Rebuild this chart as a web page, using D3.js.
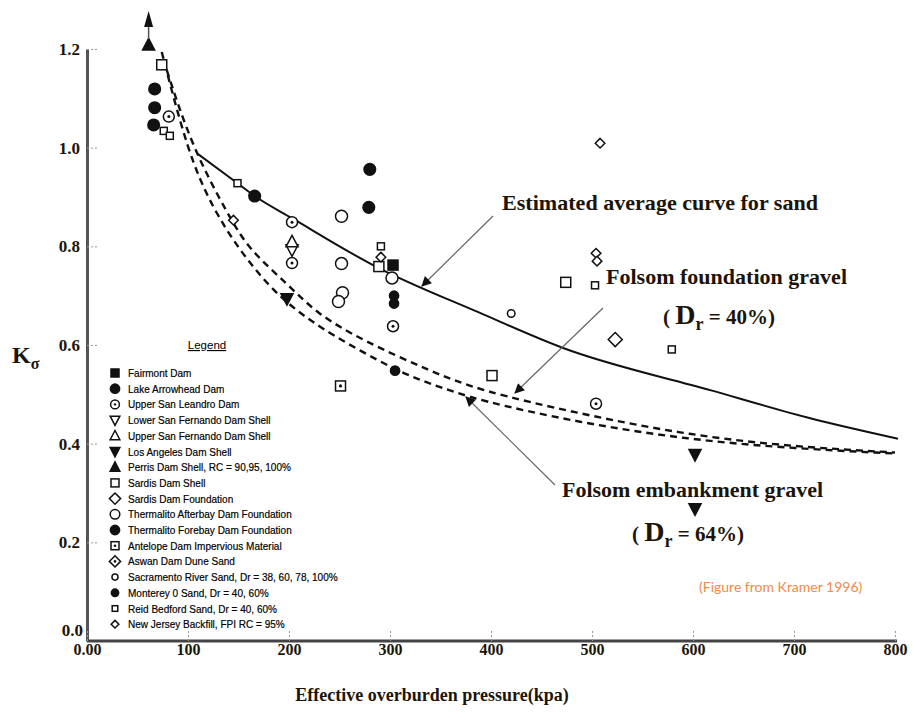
<!DOCTYPE html>
<html>
<head>
<meta charset="utf-8">
<script src="https://cdn.jsdelivr.net/npm/d3@7"></script>
<style>
  body { margin: 0; background: #fff; }
  svg { display: block; }
</style>
</head>
<body>
<script>
// ---------------- DATA ----------------
const xTicks = [0, 100, 200, 300, 400, 500, 600, 700, 800];
const xTickLabels = ["0.00", "100", "200", "300", "400", "500", "600", "700", "800"];
const yTicks = [0, 0.2, 0.4, 0.6, 0.8, 1.0, 1.2];
const yTickLabels = ["0.0", "0.2", "0.4", "0.6", "0.8", "1.0", "1.2"];

// [effective overburden pressure (kPa), K_sigma]
const fairmont = [[303, 0.762]];
const lakeArrowhead = [[67, 1.119], [67, 1.081], [66, 1.046]];
const upperSanLeandro = [[81, 1.063], [203, 0.849], [203, 0.766], [303, 0.638], [504, 0.481]];
const lowerSanFernando = [[203, 0.793]];
const upperSanFernando = [[203, 0.809]];
const losAngeles = [[198, 0.694], [602, 0.378], [602, 0.268]];
const perris = [[61, 1.208]];
const sardisShell = [[74, 1.168], [289, 0.759], [474, 0.727], [401, 0.538]];
const sardisFoundation = [[523, 0.611]];
const thermalitoAfterbay = [[252, 0.861], [252, 0.765], [253, 0.706], [249, 0.688], [302, 0.736]];
const thermalitoForebay = [[166, 0.902], [280, 0.956], [279, 0.879]];
const antelope = [[251, 0.517]];
const aswan = [];
const sacramento = [[420, 0.664]];
const monterey = [[304, 0.700], [304, 0.684], [305, 0.548]];
const reidBedford = [[149, 0.928], [76, 1.034], [82, 1.024], [291, 0.800], [503, 0.721], [579, 0.591]];
const newJersey = [[145, 0.853], [291, 0.778], [508, 1.009], [504, 0.786], [505, 0.770]];

// curves
const avgSandCurve = [[110, 0.987], [149, 0.928], [166, 0.902], [203, 0.857], [286, 0.759], [388, 0.666],
  [470, 0.595], [618, 0.508], [717, 0.451], [803, 0.410]];
const folsomFoundation = [[79, 1.157], [104, 1.001], [141, 0.859], [161, 0.792], [198, 0.725], [227, 0.664],
  [273, 0.609], [339, 0.548], [388, 0.508], [487, 0.461], [586, 0.421], [684, 0.396], [800, 0.382]];
const folsomEmbankment = [[74, 1.194], [100, 0.989], [124, 0.879], [151, 0.792], [181, 0.717], [207, 0.670],
  [240, 0.623], [306, 0.548], [339, 0.522], [388, 0.487], [487, 0.443], [586, 0.411], [684, 0.392], [800, 0.380]];

const legendNames = [
  "Fairmont Dam", "Lake Arrowhead Dam", "Upper San Leandro Dam", "Lower San Fernando Dam Shell",
  "Upper San Fernando Dam Shell", "Los Angeles Dam Shell", "Perris Dam Shell, RC = 90,95, 100%",
  "Sardis Dam Shell", "Sardis Dam Foundation", "Thermalito Afterbay Dam Foundation",
  "Thermalito Forebay Dam Foundation", "Antelope Dam Impervious Material", "Aswan Dam Dune Sand",
  "Sacramento River Sand, Dr = 38, 60, 78, 100%", "Monterey 0 Sand, Dr = 40, 60%",
  "Reid Bedford Sand, Dr = 40, 60%", "New Jersey Backfill, FPI RC = 95%"
];
const seriesData = [fairmont, lakeArrowhead, upperSanLeandro, lowerSanFernando, upperSanFernando, losAngeles,
  perris, sardisShell, sardisFoundation, thermalitoAfterbay, thermalitoForebay, antelope, aswan,
  sacramento, monterey, reidBedford, newJersey];
const seriesSymbols = ["sqF", "cirF", "cirDot", "triDown", "triUp", "triDownF", "triUpF", "sq", "dia", "cir",
  "cirF", "sqDot", "diaDot", "cirS", "cirFS", "sqS", "diaS"];

// ---------------- CHART ----------------
const W = 916, H = 713;
const x = d3.scaleLinear().domain([0, 800]).range([87, 895]);
const y = d3.scaleLinear().domain([0, 1.2]).range([641, 49]);

const svg = d3.select("body").append("svg").attr("width", W).attr("height", H);
const serif = "'Liberation Serif', 'Times New Roman', serif";
const sans = "'Liberation Sans', Arial, sans-serif";
const ink = "#1c1408";

function drawSymbol(g, type, s) {
  s = s || 1;
  const k = "#111";
  const sw = 1.5;
  function tri(up, fill, size) {
    const h = size * s, w = size * 1.1 * s;
    const pts = up ? [[0, -h * 0.6], [w / 2, h * 0.45], [-w / 2, h * 0.45]]
                   : [[0, h * 0.6], [w / 2, -h * 0.45], [-w / 2, -h * 0.45]];
    g.append("path").attr("d", "M" + pts.join("L") + "Z")
      .attr("fill", fill ? k : "#fff").attr("stroke", k).attr("stroke-width", sw);
  }
  function dia(r, fill) {
    r = r * s;
    g.append("path").attr("d", `M0,${-r}L${r},0L0,${r}L${-r},0Z`)
      .attr("fill", fill ? k : "#fff").attr("stroke", k).attr("stroke-width", sw);
  }
  function sq(a, fill) {
    a = a * s;
    g.append("rect").attr("x", -a / 2).attr("y", -a / 2).attr("width", a).attr("height", a)
      .attr("fill", fill ? k : "#fff").attr("stroke", k).attr("stroke-width", sw);
  }
  function cir(r, fill) {
    g.append("circle").attr("r", r * s).attr("fill", fill ? k : "#fff").attr("stroke", k).attr("stroke-width", sw);
  }
  function dot(r) { g.append("circle").attr("r", r * s).attr("fill", k); }
  switch (type) {
    case "sqF": sq(10, true); break;
    case "cirF": cir(5.8, true); break;
    case "cirDot": cir(5.5, false); dot(1.5); break;
    case "triDown": tri(false, false, 11); break;
    case "triUp": tri(true, false, 11); break;
    case "triDownF": tri(false, true, 11); break;
    case "triUpF": tri(true, true, 11); break;
    case "sq": sq(10, false); break;
    case "dia": dia(7, false); break;
    case "cir": cir(6, false); break;
    case "sqDot": sq(10, false); dot(1.6); break;
    case "diaDot": dia(7, false); dot(1.6); break;
    case "cirS": cir(3.8, false); break;
    case "cirFS": cir(4.6, true); break;
    case "sqS": sq(7, false); break;
    case "diaS": dia(4.8, false); break;
  }
}

// axes
const yAxis = d3.axisLeft(y).tickValues(yTicks).tickFormat((d, i) => yTickLabels[i])
  .tickSize(-12).tickSizeOuter(0).tickPadding(7);
const gy = svg.append("g").attr("transform", "translate(87,0)").call(yAxis);
gy.select(".domain").attr("stroke", "#555").attr("stroke-width", 3);
gy.selectAll(".tick line").attr("stroke", "#999").attr("stroke-dasharray", "2,2").attr("stroke-width", 1);
gy.selectAll(".tick text").attr("font-family", serif).attr("font-weight", "bold").attr("font-size", 17)
  .attr("fill", ink);
gy.selectAll(".tick").filter(d => d === 0).select("text").attr("dy", "-0.3em").attr("x", -4);

const xAxis = d3.axisBottom(x).tickValues(xTicks).tickFormat((d, i) => xTickLabels[i])
  .tickSize(-12).tickSizeOuter(0).tickPadding(3);
const gx = svg.append("g").attr("transform", "translate(0,641)").call(xAxis);
gx.select(".domain").attr("stroke", "#444").attr("stroke-width", 3).attr("d", "M87,0H897");
gx.selectAll(".tick line").attr("stroke", "#999").attr("stroke-dasharray", "2,2").attr("stroke-width", 1);
gx.selectAll(".tick text").attr("font-family", serif).attr("font-weight", "bold").attr("font-size", 16)
  .attr("fill", ink);

// axis titles
svg.append("text").attr("x", 432).attr("y", 701).attr("text-anchor", "middle")
  .attr("font-family", serif).attr("font-weight", "bold").attr("font-size", 18).attr("fill", ink)
  .text("Effective overburden pressure(kpa)");
const yt = svg.append("text").attr("x", 12).attr("y", 363)
  .attr("font-family", serif).attr("font-weight", "bold").attr("font-size", 24).attr("fill", ink);
yt.append("tspan").text("K");
yt.append("tspan").attr("font-size", 16).attr("dy", 6).text("σ");

// curves
const line = d3.line().x(d => x(d[0])).y(d => y(d[1])).curve(d3.curveMonotoneX);
const lineB = d3.line().x(d => x(d[0])).y(d => y(d[1])).curve(d3.curveBasis);
svg.append("path").datum(avgSandCurve).attr("d", line).attr("fill", "none")
  .attr("stroke", "#111").attr("stroke-width", 2);
svg.append("path").datum(folsomFoundation).attr("d", lineB).attr("fill", "none")
  .attr("stroke", "#111").attr("stroke-width", 2.4).attr("stroke-dasharray", "7,5");
svg.append("path").datum(folsomEmbankment).attr("d", lineB).attr("fill", "none")
  .attr("stroke", "#111").attr("stroke-width", 2.4).attr("stroke-dasharray", "7,5");

// data points
seriesData.forEach((arr, i) => {
  arr.forEach(p => {
    const g = svg.append("g").attr("transform", `translate(${x(p[0])},${y(p[1])})`);
    drawSymbol(g, seriesSymbols[i], 1);
  });
});

// arrow above Perris point (value off the chart)
const px = x(perris[0][0]);
svg.append("line").attr("x1", px).attr("x2", px).attr("y1", y(perris[0][1]) - 6).attr("y2", 24)
  .attr("stroke", "#555").attr("stroke-width", 1.5);
svg.append("path").attr("d", `M${px},11L${px + 4.5},27L${px - 4.5},27Z`).attr("fill", "#111");

// annotation arrows
svg.append("defs").append("marker").attr("id", "ah").attr("viewBox", "0 0 10 10")
  .attr("refX", 9).attr("refY", 5).attr("markerWidth", 14).attr("markerHeight", 10)
  .attr("markerUnits", "userSpaceOnUse").attr("orient", "auto")
  .append("path").attr("d", "M0,0L10,5L0,10Z").attr("fill", "#111");
function arrow(x1, y1, x2, y2) {
  svg.append("line").attr("x1", x1).attr("y1", y1).attr("x2", x2).attr("y2", y2)
    .attr("stroke", "#666").attr("stroke-width", 1.2).attr("marker-end", "url(#ah)");
}
arrow(493, 216, 422, 286);
arrow(603, 308, 515, 393);
arrow(555, 485, 466, 397);

// annotation texts
function label(tx, ty, txt, fs, len) {
  svg.append("text").attr("x", tx).attr("y", ty).attr("font-family", serif).attr("font-weight", "bold")
    .attr("font-size", fs).attr("fill", ink).attr("textLength", len).attr("lengthAdjust", "spacingAndGlyphs")
    .text(txt);
}
label(502, 210, "Estimated average curve for sand", 21, 316);
label(606, 284, "Folsom foundation gravel", 21, 241);
label(562, 497, "Folsom embankment gravel", 21, 261);
function drLabel(tx, ty, val, big) {
  const t = svg.append("text").attr("x", tx).attr("y", ty).attr("font-family", serif).attr("font-weight", "bold")
    .attr("font-size", 21).attr("fill", ink);
  t.append("tspan").text("( ");
  t.append("tspan").attr("font-size", big).text("D");
  t.append("tspan").attr("font-size", 18).attr("dy", 6).text("r");
  t.append("tspan").attr("dy", -6).text("  = " + val + ")");
}
drLabel(663, 324, "40%", 28);
drLabel(632, 541, "64%", 28);

svg.append("text").attr("x", 699).attr("y", 592).attr("font-family", "Lato, 'Open Sans', sans-serif")
  .attr("font-size", 14).attr("fill", "#f08a48").text("(Figure from Kramer 1996)");

// legend
const lg = svg.append("g");
lg.append("text").attr("x", 207).attr("y", 349).attr("text-anchor", "middle").attr("font-family", sans)
  .attr("font-size", 11.5).attr("text-decoration", "underline").attr("fill", "#000").text("Legend");
legendNames.forEach((name, i) => {
  const yy = 373 + i * 15.7;
  const g = lg.append("g").attr("transform", `translate(115,${yy})`);
  drawSymbol(g, seriesSymbols[i], 0.8);
  lg.append("g").attr("transform", `translate(128,${yy + 4}) scale(0.85,1)`)
    .append("text").attr("x", 0).attr("y", 0).attr("font-family", sans).attr("font-size", 11.8)
    .attr("fill", "#000").attr("stroke", "#000").attr("stroke-width", 0.2).text(name);
});
</script>
</body>
</html>
